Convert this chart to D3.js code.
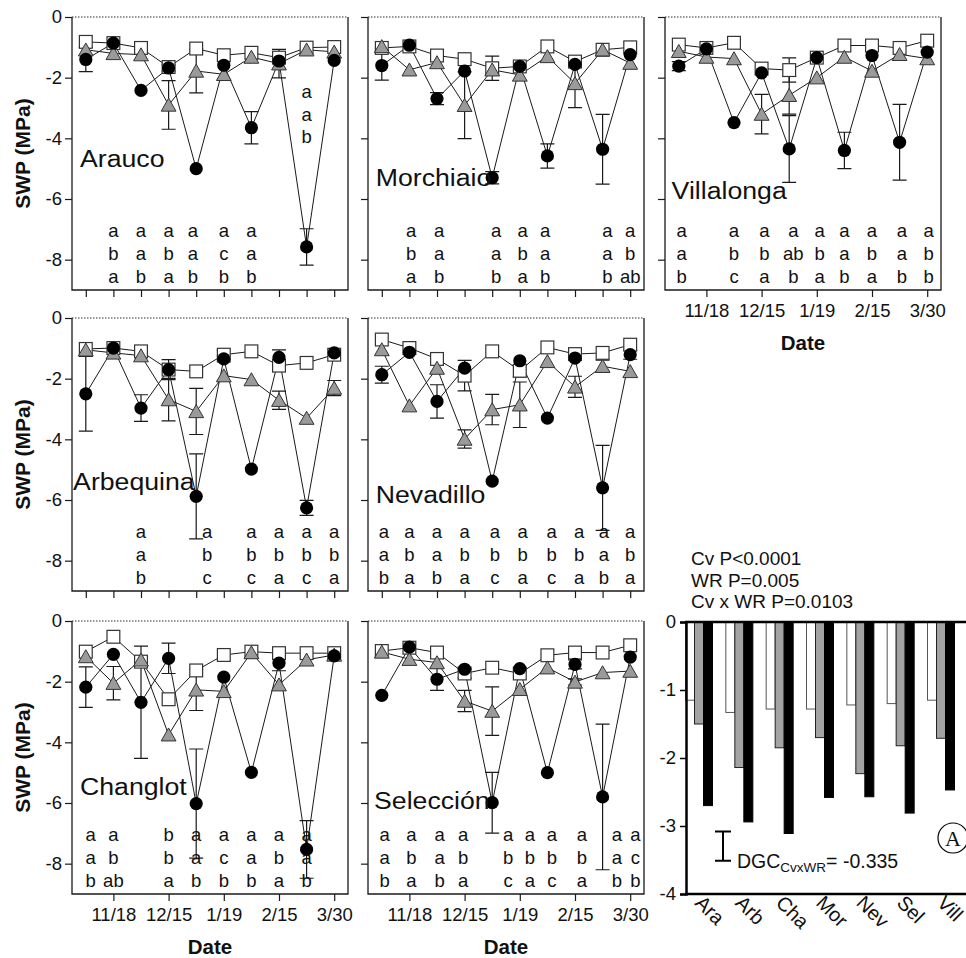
<!DOCTYPE html>
<html><head><meta charset="utf-8">
<script src="https://cdn.jsdelivr.net/npm/d3@7"></script>
<style>body{margin:0;background:#fff} svg text{font-family:"Liberation Sans",Arial,sans-serif;fill:#111}</style>
</head><body><svg id="c" width="966" height="958"></svg>
<script>
// ---------- DATA ----------
const cultivars = ["Arauco","Morchiaio","Villalonga","Arbequina","Nevadillo","Changlot","Selección"];
const tickDates = ["11/18","12/15","1/19","2/15","3/30"];
const tickDateIdx = [1,3,5,7,9];
const yTicks = [0,-2,-4,-6,-8];

// open squares (well watered)
const ww = [
 [-0.82,-0.86,-1.02,-1.65,-1.04,-1.26,-1.18,-1.34,-1.01,-0.99],
 [-1.02,-0.97,-1.27,-1.39,-1.69,-1.63,-0.97,-1.47,-1.08,-1.00],
 [-0.91,-1.02,-0.85,-1.70,-1.75,-1.34,-0.94,-0.94,-1.02,-0.78],
 [-1.02,-0.99,-1.10,-1.70,-1.76,-1.21,-1.10,-1.57,-1.48,-1.21],
 [-0.71,-0.99,-1.35,-1.90,-1.10,-1.74,-0.97,-1.19,-1.15,-0.88],
 [-1.01,-0.52,-1.34,-2.58,-1.63,-1.12,-1.01,-1.06,-1.06,-1.06],
 [-0.99,-0.88,-1.04,-1.73,-1.54,-1.73,-1.13,-1.04,-1.04,-0.80]
];
// grey triangles (moderate restriction)
const mwr = [
 [-1.08,-1.20,-1.24,-2.90,-1.78,-1.89,-1.32,-1.54,-1.08,-1.15],
 [-0.97,-1.74,-1.50,-2.91,-1.74,-1.91,-1.30,-2.19,-1.08,-1.52],
 [-1.13,-1.32,-1.37,-3.20,-2.58,-2.00,-1.32,-1.78,-1.23,-1.37],
 [-1.05,-1.15,-1.24,-2.69,-3.08,-1.90,-2.03,-2.71,-3.30,-2.31],
 [-1.04,-2.89,-1.65,-3.99,-3.02,-2.86,-1.43,-2.27,-1.59,-1.76],
 [-1.17,-2.05,-1.28,-3.75,-2.27,-2.32,-1.04,-2.10,-1.28,-1.12],
 [-1.02,-1.26,-1.37,-2.64,-2.97,-2.25,-1.54,-2.01,-1.70,-1.65]
];
// black circles (severe restriction)
const swr = [
 [-1.40,-0.86,-2.42,-1.68,-5.00,-1.59,-3.65,-1.45,-7.58,-1.43],
 [-1.60,-0.93,-2.69,-1.78,-5.30,-1.63,-4.58,-1.56,-4.36,-1.24],
 [-1.62,-1.05,-3.48,-1.84,-4.35,-1.34,-4.40,-1.27,-4.13,-1.16],
 [-2.50,-0.99,-2.97,-1.70,-5.88,-1.35,-4.98,-1.30,-6.26,-1.15],
 [-1.87,-1.13,-2.75,-1.65,-5.38,-1.41,-3.30,-1.32,-5.60,-1.21],
 [-2.18,-1.10,-2.68,-1.23,-6.02,-1.85,-4.99,-1.39,-7.53,-1.15],
 [-2.45,-0.86,-1.92,-1.59,-5.99,-1.57,-5.00,-1.43,-5.80,-1.19]
];
const wwErr = [
 [0,0,0,0,0,0,0,0,0,0],
 [0,0,0,0,0.40,0,0,0,0,0],
 [0,0,0,0,0.40,0,0,0,0,0],
 [0,0,0,0.33,0,0.15,0,0,0,0],
 [0,0,0.15,0.50,0,0.20,0,0,0,0],
 [0,0,0,0,0,0,0,0,0,0],
 [0,0,0,0.15,0,0,0,0,0,0]
];
const mwrErr = [
 [0,0,0,0.80,0.72,0,0,0.47,0,0],
 [0,0,0,1.10,0,0,0,0.80,0,0],
 [0,0,0,0.65,0.62,0,0,0,0,0],
 [0,0,0,0.70,0.76,0,0,0.30,0,0.25],
 [0,0,0,0.30,0.50,0.75,0,0.35,0.20,0],
 [0,0.55,0,0,0.68,0,0,0,0,0],
 [0,0,0,0.35,0.80,0,0,0.10,0,0]
];
const swrErr = [
 [0.40,0,0,0.10,0,0,0.53,0,0.60,0],
 [0.48,0,0.20,0,0.20,0,0.40,0,1.15,0],
 [0.15,0,0,0,1.10,0,0.60,0,1.25,0],
 [1.23,0,0.44,0,1.40,0.10,0,0.25,0.25,0],
 [0.28,0,0.55,0,0,0,0,0,1.40,0.15],
 [0.67,0,1.85,0.50,1.80,0,0,0.25,0.95,0],
 [0,0,0.37,0,1.00,0,0,0.15,2.40,0]
];
// significance letters: [date position, letters top to bottom]
const letters = [
 [[1,"a b a"],[2,"a a b"],[3,"a b a"],[3.88,"a a b"],[5,"a c b"],[6,"a a b"]],
 [[1.06,"a b a"],[2.08,"a a b"],[4.14,"a a b"],[5.1,"a b a"],[5.92,"a a b"],[8.17,"a a b"],[9,"a b ab"]],
 [[0.1,"a a b"],[2,"a b c"],[3.1,"a b a"],[4.15,"a ab b"],[5.1,"a b a"],[6,"a a b"],[7,"a b a"],[8.08,"a a b"],[9.05,"a b b"]],
 [[2,"a a b"],[4.4,"a b c"],[6,"a b c"],[7,"a b a"],[8,"a b c"],[9,"a b a"]],
 [[0.08,"a a b"],[1,"a b a"],[2,"a a b"],[3,"a b a"],[4.1,"a b c"],[5.1,"a b a"],[6.15,"a b c"],[7.15,"a b a"],[8.05,"a a b"],[9,"a b a"]],
 [[0.18,"a a b"],[1,"a b ab"],[3,"b b a"],[4,"a a b"],[5,"a c b"],[6,"a a b"],[7,"a b a"],[8,"a a b"]],
 [[0.1,"a a b"],[1.07,"a b a"],[2.1,"a a b"],[2.95,"a b a"],[4.58,"a b c"],[5.37,"a b a"],[6.16,"a b c"],[7.25,"a b a"],[8.52,"a a b"],[9.19,"a c b"]]
];
const lettersTop = [-7.1,-7.1,-7.1,-7.1,-7.1,-7.1,-7.1];
const raisedLetters = [[0, 8, "a a b", -2.5]]; // panel, date, letters, top value
const namePos = [[-0.21,-4.95],[-0.22,-5.58],[-0.26,-6.0],[-0.46,-5.68],[-0.22,-6.1],[-0.21,-5.74],[-0.28,-6.2]];

// bar chart
const barCats = ["Ara","Arb","Cha","Mor","Nev","Sel","Vill"];
const barWW  = [-1.15,-1.33,-1.28,-1.28,-1.22,-1.20,-1.15];
const barMWR = [-1.50,-2.14,-1.85,-1.70,-2.23,-1.82,-1.71];
const barSWR = [-2.70,-2.94,-3.11,-2.58,-2.57,-2.81,-2.47];
const barTicks = [0,-1,-2,-3,-4];
const statLines = ["Cv P<0.0001","WR P=0.005","Cv x WR P=0.0103"];
const dgcLabel = "= -0.335";

// ---------- DRAW ----------
const svg = d3.select("#c");
const colLeft=[72,368,665], rowTop=[17,318,621], PW=276, PH=273;
const layout=[[0,0],[1,0],[2,0],[0,1],[1,1],[0,2],[1,2]];
const bottomPanels=new Set([2,5,6]), leftPanels=new Set([0,3,5]);
const INK="#1a1a1a";

cultivars.forEach((name,p)=>{
  const [c,r]=layout[p]; const L=colLeft[c], T=rowTop[r];
  const x=d3.scaleLinear().domain([-0.5,9.5]).range([L,L+PW]);
  const y=d3.scaleLinear().domain([-9,0]).range([T+PH,T]);
  const g=svg.append("g");

  // frame
  g.append("line").attr("x1",L).attr("x2",L+PW).attr("y1",y(0)).attr("y2",y(0))
    .attr("stroke","#333").attr("stroke-width",1).attr("stroke-dasharray","1.5,1.5");
  g.append("path").attr("d",`M${L},${y(0)}V${T+PH}H${L+PW}V${y(0)}`)
    .attr("fill","none").attr("stroke",INK).attr("stroke-width",1.3);

  // axes
  const ya=d3.axisLeft(y).tickValues(yTicks).tickSize(7).tickPadding(3)
    .tickFormat(leftPanels.has(p)?(d=>String(d)):(()=>""));
  const yg=g.append("g").attr("transform",`translate(${L},0)`).call(ya);
  yg.select(".domain").remove();
  yg.attr("font-size",18.5).attr("font-family","Liberation Sans, Arial, sans-serif");
  yg.selectAll("line").attr("stroke",INK).attr("stroke-width",1.2);

  const bottom=bottomPanels.has(p);
  const xa=d3.axisBottom(x).tickValues(bottom?tickDateIdx:d3.range(10)).tickSize(7).tickPadding(7)
    .tickFormat(bottom?((d,i)=>tickDates[i]):(()=>""));
  const xg=g.append("g").attr("transform",`translate(0,${T+PH})`).call(xa);
  xg.select(".domain").remove();
  xg.attr("font-size",18.5).attr("font-family","Liberation Sans, Arial, sans-serif");
  xg.selectAll("line").attr("stroke",INK).attr("stroke-width",1.2);

  if(leftPanels.has(p)){
    g.append("text").attr("transform",`translate(30,${T+PH/2}) rotate(-90)`)
      .attr("text-anchor","middle").attr("font-weight","bold").attr("font-size",21).text("SWP (MPa)");
  }
  if(bottom){
    g.append("text").attr("x",L+PW/2).attr("y",T+PH+60).attr("text-anchor","middle")
      .attr("font-weight","bold").attr("font-size",20.5).text("Date");
  }

  // lines
  const line=d3.line().x((d,i)=>x(i)).y(d=>y(d));
  [ww,mwr,swr].forEach(s=>{
    g.append("path").attr("d",line(s[p])).attr("fill","none").attr("stroke",INK).attr("stroke-width",1);
  });

  // error bars
  [[ww,wwErr],[mwr,mwrErr],[swr,swrErr]].forEach(([s,e])=>{
    s[p].forEach((v,i)=>{
      const er=e[p][i]; if(!er) return;
      const xi=x(i), y1=y(v+er), y2=y(v-er);
      g.append("path").attr("d",`M${xi},${y1}V${y2}M${xi-7},${y1}H${xi+7}M${xi-7},${y2}H${xi+7}`)
        .attr("stroke",INK).attr("stroke-width",1.2).attr("fill","none");
    });
  });

  // markers
  ww[p].forEach((v,i)=>{
    g.append("rect").attr("x",x(i)-6.4).attr("y",y(v)-6.4).attr("width",12.8).attr("height",12.8)
      .attr("fill","#fff").attr("stroke","#333").attr("stroke-width",1.2);
  });
  mwr[p].forEach((v,i)=>{
    const cx=x(i), cy=y(v);
    g.append("path").attr("d",`M${cx},${cy-6.8}L${cx+7.4},${cy+6.2}L${cx-7.4},${cy+6.2}Z`)
      .attr("fill","#9a9a9a").attr("stroke","#333").attr("stroke-width",1);
  });
  swr[p].forEach((v,i)=>{
    g.append("circle").attr("cx",x(i)).attr("cy",y(v)).attr("r",6.6).attr("fill","#000");
  });

  // letters
  const drawLetters=(pos,str,top)=>{
    str.split(" ").forEach((l,k)=>{
      g.append("text").attr("x",x(pos)).attr("y",y(top)+5+k*22.7).attr("text-anchor","middle")
        .attr("font-size",18.5).text(l);
    });
  };
  letters[p].forEach(([pos,str])=>drawLetters(pos,str,lettersTop[p]));
  raisedLetters.filter(d=>d[0]===p).forEach(d=>drawLetters(d[1],d[2],d[3]));

  // cultivar name
  g.append("text").attr("transform",`translate(${x(namePos[p][0])},${y(namePos[p][1])}) scale(1.16,1)`)
    .attr("font-size",23).text(name);
});

// ---------- BAR CHART ----------
const bx=d3.scalePoint().domain(barCats).range([699,941]);
const by=d3.scaleLinear().domain([-4,0]).range([894,622]);
const bg=svg.append("g");
const BW=9;
[[barWW,"#fff","#555",-1.5],[barMWR,"#a3a3a3","#222",-0.5],[barSWR,"#000","#000",0.5]].forEach(([vals,fill,stroke,off])=>{
  bg.selectAll(null).data(barCats).enter().append("rect")
    .attr("x",d=>bx(d)+off*BW).attr("y",by(0)).attr("width",BW)
    .attr("height",(d,i)=>by(vals[i])-by(0))
    .attr("fill",fill).attr("stroke",stroke).attr("stroke-width",1);
});
const ba=d3.axisLeft(by).tickValues(barTicks).tickSize(6).tickPadding(4).tickFormat(d=>String(d));
const bag=bg.append("g").attr("transform","translate(686,0)").call(ba);
bag.attr("font-size",18.5).attr("font-family","Liberation Sans, Arial, sans-serif");
bag.select(".domain").attr("stroke","#000").attr("stroke-width",2.5);
bag.selectAll("line").attr("stroke","#000").attr("stroke-width",1.5);
bg.append("line").attr("x1",685).attr("x2",966).attr("y1",by(0)).attr("y2",by(0)).attr("stroke","#000").attr("stroke-width",2.5);
bg.append("line").attr("x1",685).attr("x2",966).attr("y1",by(-4)).attr("y2",by(-4)).attr("stroke","#000").attr("stroke-width",2.5);

barCats.forEach(c=>{
  bg.append("text").attr("transform",`translate(${bx(c)-5},904) rotate(45)`).attr("font-size",20).text(c);
});
statLines.forEach((s,i)=>{
  bg.append("text").attr("x",691).attr("y",565+i*21.7).attr("font-size",19).text(s);
});
// DGC bar
const dgx=723;
const d1=by(-3.08), d2=by(-3.51);
bg.append("path").attr("d",`M${dgx},${d1}V${d2}M${dgx-8},${d1}H${dgx+8}M${dgx-8},${d2}H${dgx+8}`)
  .attr("stroke","#000").attr("stroke-width",2).attr("fill","none");
const dt=bg.append("text").attr("x",737).attr("y",868).attr("font-size",19.5);
dt.append("tspan").text("DGC");
dt.append("tspan").attr("font-size",13.5).attr("dy",4).text("CvxWR");
dt.append("tspan").attr("dy",-4).text(dgcLabel);
// circled A
bg.append("circle").attr("cx",953).attr("cy",838).attr("r",15).attr("fill","none").attr("stroke","#000").attr("stroke-width",1.2);
bg.append("text").attr("x",953).attr("y",845.5).attr("text-anchor","middle").attr("font-size",22)
  .style("font-family","Liberation Serif, serif").text("A");
</script></body></html>
